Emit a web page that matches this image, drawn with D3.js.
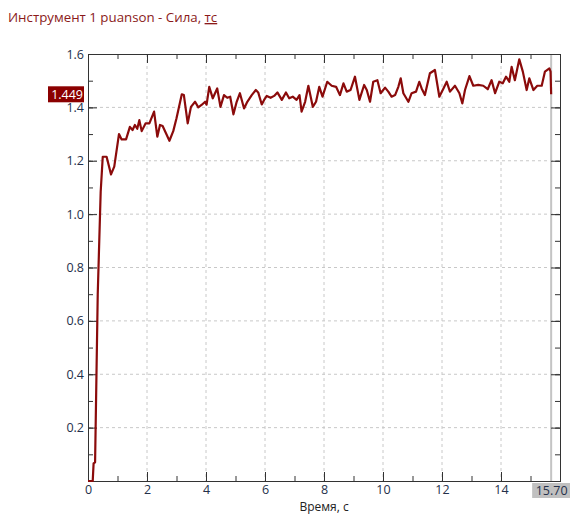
<!DOCTYPE html>
<html><head><meta charset="utf-8">
<script src="https://cdn.jsdelivr.net/npm/d3@7"></script>
<style>
html,body{margin:0;padding:0;background:#fff;}
svg{display:block;font-family:"Open Sans","Noto Sans",sans-serif;}
</style></head>
<body><svg id="c" width="570" height="515"></svg>
<script>
const timeS = [0,0.16,0.19,0.24,0.33,0.43,0.50,0.63,0.78,0.89,1.05,1.14,1.29,1.42,1.51,1.59,1.67,1.74,1.82,1.95,2.08,2.24,2.35,2.44,2.53,2.76,2.89,3.00,3.18,3.25,3.38,3.49,3.63,3.74,3.86,3.97,4.02,4.11,4.23,4.38,4.49,4.61,4.72,4.82,4.93,5.04,5.15,5.29,5.40,5.55,5.69,5.77,5.89,5.97,6.06,6.19,6.31,6.42,6.57,6.71,6.82,6.94,7.07,7.17,7.24,7.36,7.47,7.62,7.73,7.84,7.95,8.11,8.26,8.41,8.54,8.66,8.77,8.90,9.05,9.20,9.36,9.45,9.56,9.67,9.81,9.92,10.07,10.18,10.29,10.41,10.52,10.60,10.69,10.86,10.97,11.12,11.23,11.31,11.42,11.59,11.76,11.91,12.05,12.16,12.27,12.44,12.59,12.69,12.78,12.93,13.06,13.23,13.40,13.55,13.68,13.80,13.94,14.06,14.17,14.28,14.36,14.47,14.62,14.74,14.87,14.96,15.10,15.23,15.38,15.49,15.64,15.68,15.70];
const force = [0,0,0.066,0.07,0.70,1.084,1.215,1.215,1.149,1.178,1.300,1.280,1.280,1.327,1.315,1.334,1.320,1.352,1.311,1.340,1.340,1.384,1.290,1.334,1.330,1.275,1.311,1.359,1.449,1.446,1.340,1.402,1.421,1.400,1.410,1.421,1.410,1.477,1.434,1.471,1.402,1.446,1.436,1.440,1.374,1.421,1.453,1.396,1.421,1.446,1.465,1.456,1.411,1.428,1.443,1.436,1.443,1.456,1.428,1.456,1.434,1.440,1.428,1.446,1.384,1.421,1.481,1.402,1.421,1.477,1.440,1.496,1.481,1.477,1.446,1.490,1.459,1.465,1.515,1.428,1.484,1.465,1.421,1.496,1.502,1.453,1.474,1.459,1.440,1.446,1.477,1.509,1.453,1.421,1.453,1.459,1.496,1.471,1.446,1.528,1.540,1.440,1.471,1.496,1.459,1.481,1.453,1.415,1.465,1.517,1.481,1.484,1.481,1.468,1.502,1.453,1.496,1.490,1.515,1.496,1.552,1.502,1.580,1.534,1.465,1.509,1.465,1.481,1.481,1.534,1.546,1.534,1.449];
const xTicks = [0,2,4,6,8,10,12,14];
const yTicks = [0.2,0.4,0.6,0.8,1.0,1.2,1.4,1.6];
const titleMain = "Инструмент 1 puanson - Сила, ";
const titleUnit = "тс";
const xTitle = "Время, с";
const cursorTime = 15.70;
const cursorValue = 1.449;

const L=88, R=560, T=54, B=481;
const x = d3.scaleLinear().domain([0,16]).range([L,R]);
const y = d3.scaleLinear().domain([0,1.6]).range([B,T]);
const svg = d3.select("#c");
const data = timeS.map((t,i)=>[t,force[i]]);

// title
const tt = svg.append("text").attr("x",8).attr("y",22).attr("font-size",13.3).attr("fill","#8b1a1a");
tt.append("tspan").text(titleMain);
tt.append("tspan").attr("text-decoration","underline").text(titleUnit);

// grid
const g = svg.append("g");
g.selectAll(".gx").data(xTicks.filter(d=>d>0)).enter().append("line")
  .attr("x1",d=>x(d)).attr("x2",d=>x(d)).attr("y1",T).attr("y2",B)
  .attr("stroke","#c8c8c8").attr("stroke-dasharray","3,3");
g.selectAll(".gy").data(yTicks.filter(d=>d<1.6)).enter().append("line")
  .attr("y1",d=>y(d)).attr("y2",d=>y(d)).attr("x1",L).attr("x2",R)
  .attr("stroke","#c8c8c8").attr("stroke-dasharray","3,3");

// cursor line
svg.append("line").attr("x1",x(cursorTime)).attr("x2",x(cursorTime)).attr("y1",T).attr("y2",B)
  .attr("stroke","#c4c4c4").attr("stroke-width",2);

// axes
const axCol="#333";
const xMinor = d3.range(0,17,1), yMinor = d3.range(0,17,1).map(d=>d/10);
function axis(gen, tr){
  const a = svg.append("g").attr("transform",tr).call(gen);
  a.select(".domain").attr("stroke",axCol);
  a.selectAll(".tick line").attr("stroke",axCol);
  return a;
}
// bottom
axis(d3.axisBottom(x).tickValues(xMinor).tickSize(-5).tickFormat(""), `translate(0,${B})`);
const xb = axis(d3.axisBottom(x).tickValues(xTicks).tickSize(-9).tickPadding(4).tickFormat(d3.format("d")), `translate(0,${B})`);
xb.selectAll("text").attr("font-size",12.5).attr("fill","#24304a").attr("font-family","Open Sans");
// top
axis(d3.axisTop(x).tickValues(xMinor).tickSize(-5).tickFormat(""), `translate(0,${T})`);
axis(d3.axisTop(x).tickValues(xTicks.concat([16])).tickSize(-9).tickFormat(""), `translate(0,${T})`);
// left
axis(d3.axisLeft(y).tickValues(yMinor).tickSize(-5).tickFormat(""), `translate(${L},0)`);
const yl = axis(d3.axisLeft(y).tickValues(yTicks).tickSize(-9).tickPadding(4).tickFormat(d3.format(".1f")), `translate(${L},0)`);
yl.selectAll("text").attr("font-size",12.5).attr("fill","#24304a").attr("font-family","Open Sans");
yl.selectAll(".tick text").attr("x",-4);

// right
axis(d3.axisRight(y).tickValues(yMinor).tickSize(-5).tickFormat(""), `translate(${R},0)`);
axis(d3.axisRight(y).tickValues(yTicks).tickSize(-9).tickFormat(""), `translate(${R},0)`);

// line
svg.append("path").datum(data)
  .attr("d", d3.line().x(d=>x(d[0])).y(d=>y(d[1])))
  .attr("fill","none").attr("stroke","#8b0b0b").attr("stroke-width",2.2).attr("stroke-linejoin","round");

// left value marker
const vy = y(cursorValue);
svg.append("rect").attr("x",48).attr("y",vy-8).attr("width",36).attr("height",16).attr("fill","#8b0000");
svg.append("text").attr("x",83).attr("y",vy+4.5).attr("text-anchor","end").attr("font-size",12.5)
  .attr("fill","#fff").text(d3.format(".3f")(cursorValue));

// bottom time marker
const cx = x(cursorTime);
svg.append("rect").attr("x",cx-19).attr("y",B+2).attr("width",39).attr("height",15).attr("fill","#c0c0c0");
svg.append("text").attr("x",cx+0.5).attr("y",B+14).attr("text-anchor","middle").attr("font-size",12.5)
  .attr("fill","#24304a").text(d3.format(".2f")(cursorTime));

// x title
svg.append("text").attr("x",(L+R)/2).attr("y",511).attr("text-anchor","middle").attr("font-size",12)
  .attr("fill","#222").text(xTitle);
</script></body></html>
